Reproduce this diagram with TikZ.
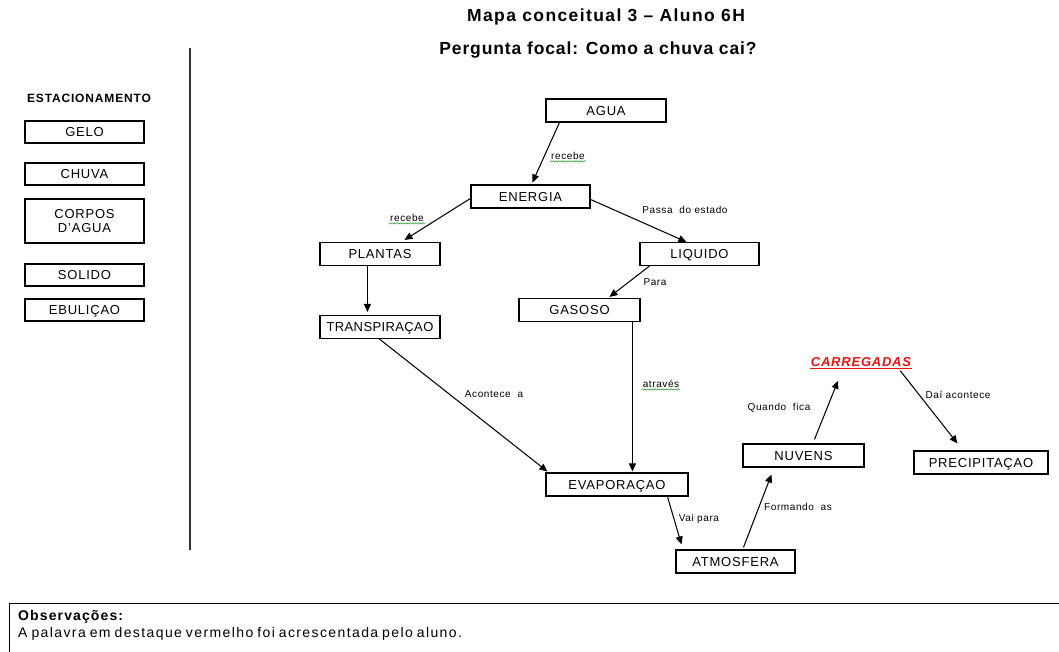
\documentclass[tikz,border=0pt]{standalone}
\usepackage{fontspec}
\setmainfont{Liberation Sans}
\newfontfamily\notefont[WordSpace=0.75]{Liberation Sans}
\usetikzlibrary{arrows.meta,calc,decorations.pathmorphing}
\definecolor{spellgreen}{RGB}{40,150,40}
\definecolor{addred}{RGB}{230,20,20}
\newcommand{\lspace}[1]{\addfontfeature{LetterSpace=#1}}
\begin{document}
\begin{tikzpicture}[x=1pt,y=-1pt,
  concept/.style={draw, line width=1.1pt, minimum width=120pt, minimum height=23pt,
    inner sep=0pt, text height=9pt, text depth=0pt,
    font=\fontsize{13}{15}\selectfont\lspace{6}},
  link/.style={draw, line width=1.05pt, -{Triangle[length=8pt,width=7pt]}},
  lbl/.style={font=\fontsize{10}{12}\selectfont\lspace{6}, inner sep=1pt},
  spell/.style={spellgreen, line width=0.5pt, decorate,
    decoration={snake, amplitude=0.7pt, segment length=2.6pt}}]
\useasboundingbox (0,0) rectangle (1059,651);

% headings
\node[font=\fontsize{17.5}{20}\selectfont\bfseries\lspace{8}] (title) at (606,17) {Mapa conceitual 3 – Aluno 6H};
\node[font=\fontsize{17.5}{20}\selectfont\bfseries\lspace{5}] (focal) at (598,50) {Pergunta focal: Como a chuva cai?};

% parking area for unused concepts
\node[font=\fontsize{12}{14}\selectfont\bfseries\lspace{7}] (park) at (89,98) {ESTACIONAMENTO};
\node[concept, minimum width=119pt, minimum height=22pt] (gelo) at (84.5,132) {GELO};
\node[concept, minimum width=119pt, minimum height=22pt] (chuva) at (84.5,174) {CHUVA};
\node[concept, minimum width=119pt, minimum height=44pt, align=center, text height=, text depth=] (corpos) at (84.5,221) {CORPOS\\[-1pt]D'AGUA};
\node[concept, minimum width=119pt, minimum height=22pt] (solido) at (84.5,275) {SOLIDO};
\node[concept, minimum width=119pt, minimum height=22pt] (ebul) at (84.5,310) {EBULIÇAO};
\coordinate (divtop) at (190,48);
\coordinate (divbot) at (190,550);
\draw[line width=1.3pt, black!80] (divtop) -- (divbot);

% concept map
\node[concept] (agua) at (606,110.5) {AGUA};
\node[concept, minimum width=119pt] (energia) at (530.5,196.5) {ENERGIA};
\node[concept] (plantas) at (380,254) {PLANTAS};
\node[concept, minimum width=119pt] (liquido) at (699.5,254) {LIQUIDO};
\node[concept, minimum width=121pt] (gasoso) at (579.5,310) {GASOSO};
\node[concept, font=\fontsize{13}{15}\selectfont\lspace{3}] (transp) at (380,327) {TRANSPIRAÇAO};
\node[concept, minimum width=142pt] (evap) at (617,484.5) {EVAPORAÇAO};
\node[concept, minimum width=119pt] (atm) at (735.5,561.5) {ATMOSFERA};
\node[concept, minimum width=121pt] (nuvens) at (803.5,455.5) {NUVENS};
\node[concept, minimum width=134pt] (precip) at (981,462.5) {PRECIPITAÇAO};
\node[font=\fontsize{13}{15}\selectfont\bfseries\itshape\lspace{6}, text=addred, inner sep=1pt] (carreg) at (861,362) {CARREGADAS};
\draw[addred, line width=0.8pt] ([yshift=-1pt]carreg.south west) -- ([yshift=-1pt]carreg.south east);

% connectors
\draw[link] ([xshift=14pt]agua.south west) -- ([xshift=62pt,yshift=2pt]energia.north west);
\draw[link] ([yshift=-14pt]energia.north west) -- ([xshift=85pt,yshift=2pt]plantas.north west);
\draw[link] ([yshift=-15pt]energia.north east) -- ([xshift=47pt]liquido.north west);
\draw[link] ([xshift=10pt]liquido.south west) -- ([xshift=91pt,yshift=1pt]gasoso.north west);
\draw[link] ([xshift=48pt]plantas.south west) -- ([xshift=48pt,yshift=3pt]transp.north west);
\draw[link] ([xshift=60pt]transp.south west) -- ([xshift=2pt,yshift=1pt]evap.north west);
\draw[link] ([xshift=114pt]gasoso.south west) -- ([xshift=87pt,yshift=1pt]evap.north west);
\draw[link] ([xshift=122pt]evap.south west) -- ([xshift=6pt,yshift=5pt]atm.north west);
\draw[link] ([xshift=68pt,yshift=2pt]atm.north west) -- ([xshift=29pt,yshift=-7pt]nuvens.south west);
\draw[link] ([xshift=72pt,yshift=4pt]nuvens.north west) -- ([xshift=-23pt,yshift=-13pt]carreg.south);
\draw[link] ([xshift=-12pt,yshift=-3pt]carreg.south east) -- ([xshift=44pt,yshift=7pt]precip.north west);

% link phrases
\node[lbl] (l1) at (568,156) {recebe};
\draw[spell] ([yshift=-0.5pt]l1.south west) -- ([yshift=-0.5pt]l1.south east);
\node[lbl] (l2) at (407,218) {recebe};
\draw[spell] ([yshift=-0.5pt]l2.south west) -- ([yshift=-0.5pt]l2.south east);
\node[lbl] (l3) at (685,210) {Passa\ \ do estado};
\node[lbl] (l4) at (655,282) {Para};
\node[lbl] (l5) at (494,394) {Acontece\ \ a};
\node[lbl] (l6) at (661,384) {através};
\draw[spell] ([yshift=-0.5pt]l6.south west) -- ([yshift=-0.5pt]l6.south east);
\node[lbl] (l7) at (699,519) {Vai para};
\node[lbl] (l8) at (798,507) {Formando\ \ as};
\node[lbl] (l9) at (779,408) {Quando\ \ fica};
\node[lbl] (l10) at (958,395) {Daí acontece};

% notes box
\node[draw, line width=1pt, anchor=north west, minimum width=1060pt, minimum height=50pt] (notes) at (9,603) {};
\node[anchor=west, inner sep=0pt, font=\fontsize{14}{16}\notefont\bfseries\lspace{8}] (obs) at (18,617) {Observações:};
\node[anchor=west, inner sep=0pt, font=\fontsize{14}{16}\notefont\lspace{10}] (obstext) at (18,634) {A palavra em destaque vermelho foi acrescentada pelo aluno.};
\end{tikzpicture}
\end{document}
